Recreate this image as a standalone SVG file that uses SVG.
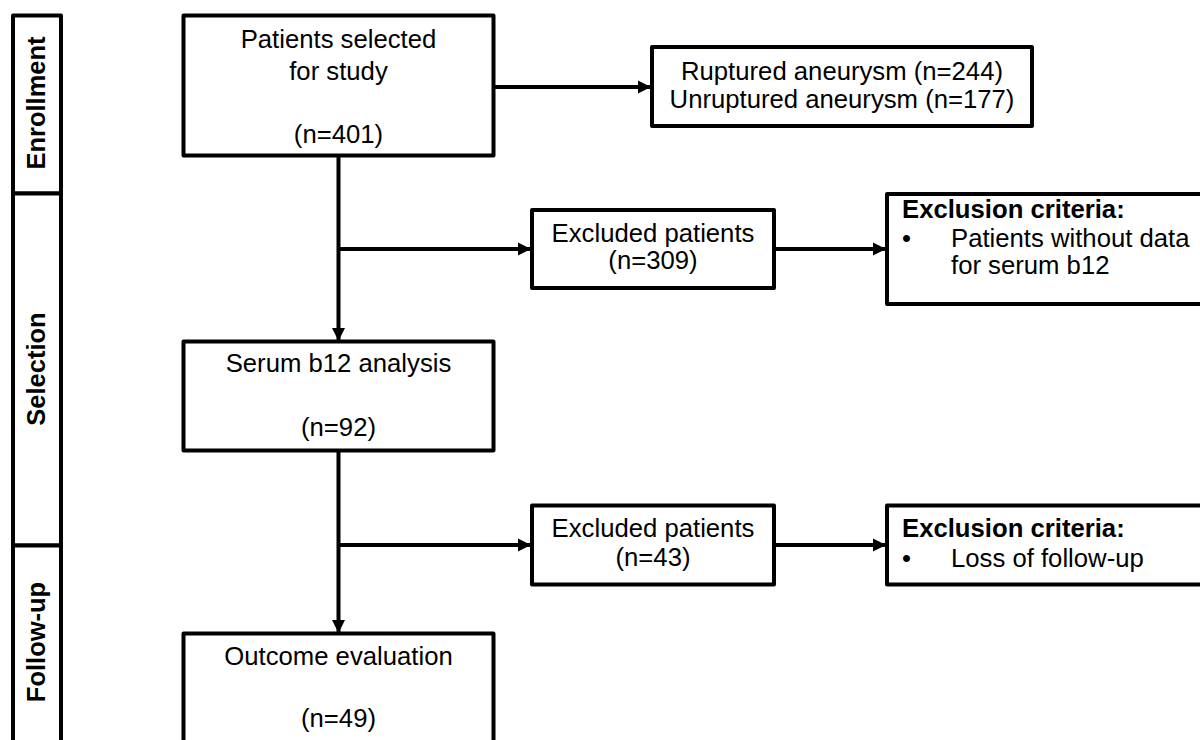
<svg xmlns="http://www.w3.org/2000/svg" width="1200" height="740" viewBox="0 0 1200 740">
<defs>
<marker id="ah" viewBox="0 0 10 10" refX="10" refY="5" markerWidth="3.3" markerHeight="3.3" markerUnits="strokeWidth" orient="auto">
<path d="M0,0 L10,5 L0,10 z" fill="#000"/>
</marker>
<style>
.box{fill:#fff;stroke:#000;stroke-width:4;stroke-linejoin:round}
.t{font-family:"Liberation Sans",Arial,sans-serif;font-size:25.7px;fill:#000;text-anchor:middle}
.s{font-family:"Liberation Sans",Arial,sans-serif;font-size:25.7px;fill:#000}
.b{font-weight:bold}
.side{font-family:"Liberation Sans",Arial,sans-serif;font-size:25.5px;font-weight:bold;fill:#000;text-anchor:middle}
.ln{fill:none;stroke:#000;stroke-width:4}
</style>
</defs>
<rect width="1200" height="740" fill="#fff"/>
<g id="phase-enrollment">
<rect class="box" x="13" y="15.5" width="48" height="178"/>
<text class="side" transform="translate(45,103) rotate(-90)">Enrollment</text>
</g>
<g id="phase-selection">
<rect class="box" x="13" y="193.5" width="48" height="352"/>
<text class="side" transform="translate(45,369) rotate(-90)">Selection</text>
</g>
<g id="phase-followup">
<rect class="box" x="13" y="545.5" width="48" height="210"/>
<text class="side" transform="translate(45,642) rotate(-90)">Follow-up</text>
</g>
<g id="connectors">
<line class="ln" x1="338.5" y1="156" x2="338.5" y2="341" marker-end="url(#ah)"/>
<line class="ln" x1="493.5" y1="87" x2="651" y2="87" marker-end="url(#ah)"/>
<line class="ln" x1="338.5" y1="249" x2="531" y2="249" marker-end="url(#ah)"/>
<line class="ln" x1="774" y1="249" x2="886" y2="249" marker-end="url(#ah)"/>
<line class="ln" x1="338.5" y1="451" x2="338.5" y2="633" marker-end="url(#ah)"/>
<line class="ln" x1="338.5" y1="545" x2="531" y2="545" marker-end="url(#ah)"/>
<line class="ln" x1="774" y1="545" x2="886" y2="545" marker-end="url(#ah)"/>
</g>
<g id="n-patients">
<rect class="box" x="183.5" y="15.5" width="310" height="140"/>
<text class="t" x="338.5" y="48">Patients selected</text>
<text class="t" x="338.5" y="80">for study</text>
<text class="t" x="338.5" y="143">(n=401)</text>
</g>
<g id="n-aneurysm">
<rect class="box" x="652" y="47" width="380" height="79"/>
<text class="t" x="842" y="80">Ruptured aneurysm (n=244)</text>
<text class="t" x="842" y="108">Unruptured aneurysm (n=177)</text>
</g>
<g id="n-excluded1">
<rect class="box" x="532" y="210" width="242" height="78"/>
<text class="t" x="653" y="242">Excluded patients</text>
<text class="t" x="653" y="269">(n=309)</text>
</g>
<g id="n-criteria1">
<rect class="box" x="887" y="194" width="330" height="110"/>
<text class="s b" x="902" y="218">Exclusion criteria:</text>
<text class="s" x="902" y="247">•</text>
<text class="s" x="951" y="247">Patients without data</text>
<text class="s" x="951" y="274">for serum b12</text>
</g>
<g id="n-serum">
<rect class="box" x="183.5" y="341.5" width="310" height="109"/>
<text class="t" x="338.5" y="372">Serum b12 analysis</text>
<text class="t" x="338.5" y="436">(n=92)</text>
</g>
<g id="n-excluded2">
<rect class="box" x="532" y="505.5" width="242" height="79"/>
<text class="t" x="653" y="537">Excluded patients</text>
<text class="t" x="653" y="566">(n=43)</text>
</g>
<g id="n-criteria2">
<rect class="box" x="887" y="505.5" width="330" height="79"/>
<text class="s b" x="902" y="537">Exclusion criteria:</text>
<text class="s" x="902" y="567">•</text>
<text class="s" x="951" y="567">Loss of follow-up</text>
</g>
<g id="n-outcome">
<rect class="box" x="183.5" y="633.5" width="310" height="130"/>
<text class="t" x="338.5" y="665">Outcome evaluation</text>
<text class="t" x="338.5" y="727">(n=49)</text>
</g>
</svg>
